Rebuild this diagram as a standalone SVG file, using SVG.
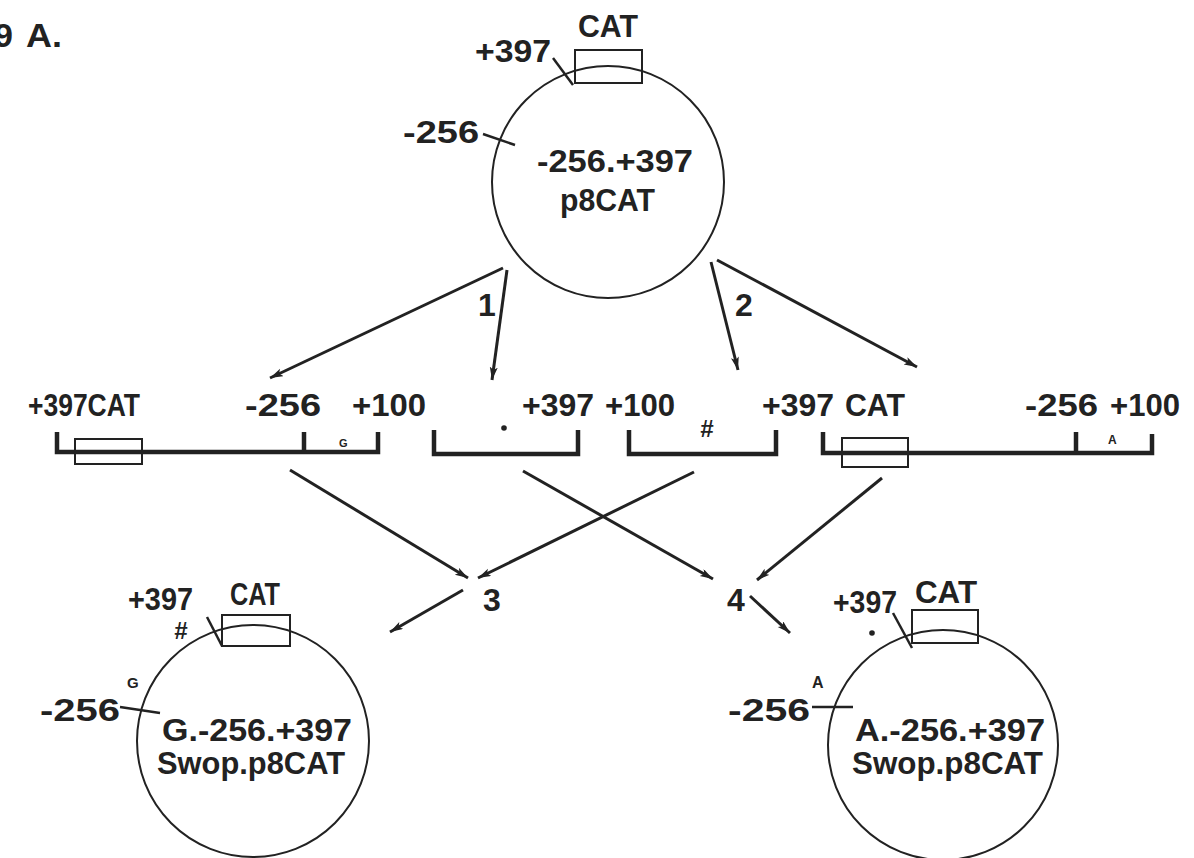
<svg xmlns="http://www.w3.org/2000/svg" width="1194" height="858" viewBox="0 0 1194 858">
<defs>
<marker id="ah" markerUnits="userSpaceOnUse" markerWidth="14" markerHeight="10" refX="13" refY="4" orient="auto">
<path d="M0,0 L13,4 L0,8 L3,4 z" fill="#222"/>
</marker>
</defs>
<style>
.t{font-family:"Liberation Sans",Arial,sans-serif;font-weight:bold;font-size:32px;fill:#222}
.s{font-family:"Liberation Sans",Arial,sans-serif;font-weight:bold;fill:#222}
.c{fill:none;stroke:#222;stroke-width:2}
.b{fill:none;stroke:#222;stroke-width:2}
.frag{fill:none;stroke:#222;stroke-width:4.5;stroke-linejoin:miter}
.ld{fill:none;stroke:#222;stroke-width:2.5}
.ar{fill:none;stroke:#222;stroke-width:3;marker-end:url(#ah)}
</style>
<rect width="1194" height="858" fill="#fff"/>
<g id="title">
<text class="s" x="13" y="47" font-size="34" text-anchor="end">9</text>
<text class="s" x="26" y="47" font-size="34" textLength="36" lengthAdjust="spacingAndGlyphs">A.</text>
</g>
<g id="top-plasmid">
<circle class="c" cx="608" cy="182" r="116"/>
<rect class="b" x="575" y="50" width="67" height="33"/>
<path class="ld" d="M553,58 L573,85"/>
<path class="ld" d="M483,134 L515,145"/>
<text class="t" x="578" y="37" textLength="60" lengthAdjust="spacingAndGlyphs">CAT</text>
<text class="t" x="475" y="62" textLength="76" lengthAdjust="spacingAndGlyphs">+397</text>
<text class="t" x="403" y="143" textLength="76" lengthAdjust="spacingAndGlyphs">-256</text>
<text class="t" x="537" y="172" textLength="156" lengthAdjust="spacingAndGlyphs">-256.+397</text>
<text class="t" x="560" y="211" textLength="95" lengthAdjust="spacingAndGlyphs">p8CAT</text>
</g>
<g id="frag1">
<path class="frag" d="M57,432 L57,452 L378,452 L378,432"/>
<path class="frag" d="M304,432 L304,452"/>
<rect class="b" x="75" y="439" width="67" height="25"/>
<text class="t" x="28" y="416" textLength="112" lengthAdjust="spacingAndGlyphs">+397CAT</text>
<text class="t" x="245" y="416" textLength="76" lengthAdjust="spacingAndGlyphs">-256</text>
<text class="t" x="352" y="416" textLength="74" lengthAdjust="spacingAndGlyphs">+100</text>
<text class="s" x="339" y="447" font-size="11">G</text>
</g>
<g id="frag2">
<path class="frag" d="M434,430 L434,454 L578,454 L578,430"/>
<circle cx="504" cy="428" r="2.8" fill="#222"/>
<text class="t" x="522" y="416" textLength="72" lengthAdjust="spacingAndGlyphs">+397</text>
</g>
<g id="frag3">
<path class="frag" d="M629,430 L629,454 L776,454 L776,430"/>
<text class="t" x="605" y="416" textLength="70" lengthAdjust="spacingAndGlyphs">+100</text>
<text class="s" x="700" y="437" font-size="24" font-style="italic">#</text>
</g>
<g id="frag4">
<path class="frag" d="M823,432 L823,453 L1152,453 L1152,434"/>
<path class="frag" d="M1076,432 L1076,453"/>
<rect class="b" x="842" y="438" width="66" height="29"/>
<text class="t" x="762" y="416" textLength="72" lengthAdjust="spacingAndGlyphs">+397</text>
<text class="t" x="845" y="416" textLength="60" lengthAdjust="spacingAndGlyphs">CAT</text>
<text class="t" x="1025" y="416" textLength="73" lengthAdjust="spacingAndGlyphs">-256</text>
<text class="t" x="1110" y="416" textLength="70" lengthAdjust="spacingAndGlyphs">+100</text>
<text class="s" x="1108" y="444" font-size="12">A</text>
</g>
<g id="bl-plasmid">
<circle class="c" cx="253" cy="741" r="116"/>
<rect class="b" x="222" y="615" width="68" height="31"/>
<path class="ld" d="M207,617 L222,646"/>
<path class="ld" d="M120,707 L160,713"/>
<text class="t" x="128" y="610" textLength="65" lengthAdjust="spacingAndGlyphs">+397</text>
<text class="t" x="230" y="605" textLength="50" lengthAdjust="spacingAndGlyphs">CAT</text>
<text class="s" x="174" y="639" font-size="24" font-style="italic">#</text>
<text class="s" x="127" y="688" font-size="15">G</text>
<text class="t" x="40" y="721" textLength="80" lengthAdjust="spacingAndGlyphs">-256</text>
<text class="t" x="162" y="741" textLength="190" lengthAdjust="spacingAndGlyphs">G.-256.+397</text>
<text class="t" x="157" y="774" textLength="188" lengthAdjust="spacingAndGlyphs">Swop.p8CAT</text>
</g>
<g id="br-plasmid">
<circle class="c" cx="943" cy="745" r="115"/>
<rect class="b" x="912" y="610" width="66" height="33"/>
<path class="ld" d="M893,613 L912,648"/>
<path class="ld" d="M812,707 L853,707"/>
<circle cx="872" cy="633" r="2.8" fill="#222"/>
<text class="t" x="833" y="613" textLength="64" lengthAdjust="spacingAndGlyphs">+397</text>
<text class="t" x="915" y="603" textLength="62" lengthAdjust="spacingAndGlyphs">CAT</text>
<text class="s" x="812" y="688" font-size="16">A</text>
<text class="t" x="728" y="721" textLength="82" lengthAdjust="spacingAndGlyphs">-256</text>
<text class="t" x="855" y="741" textLength="190" lengthAdjust="spacingAndGlyphs">A.-256.+397</text>
<text class="t" x="852" y="774" textLength="191" lengthAdjust="spacingAndGlyphs">Swop.p8CAT</text>
</g>
<g id="step-labels">
<text class="t" x="478" y="316">1</text>
<text class="t" x="735" y="316">2</text>
<text class="t" x="483" y="611">3</text>
<text class="t" x="727" y="611">4</text>
</g>
<g id="connectors">
<path class="ar" d="M503,268 L270,378"/>
<path class="ar" d="M507,270 L492,380"/>
<path class="ar" d="M711,262 L738,370"/>
<path class="ar" d="M717,260 L917,367"/>
<path class="ar" d="M290,470 L468,578"/>
<path class="ar" d="M694,472 L478,578"/>
<path class="ar" d="M523,471 L713,579"/>
<path class="ar" d="M882,478 L757,580"/>
<path class="ar" d="M463,590 L390,632"/>
<path class="ar" d="M750,596 L790,633"/>
</g>
</svg>
